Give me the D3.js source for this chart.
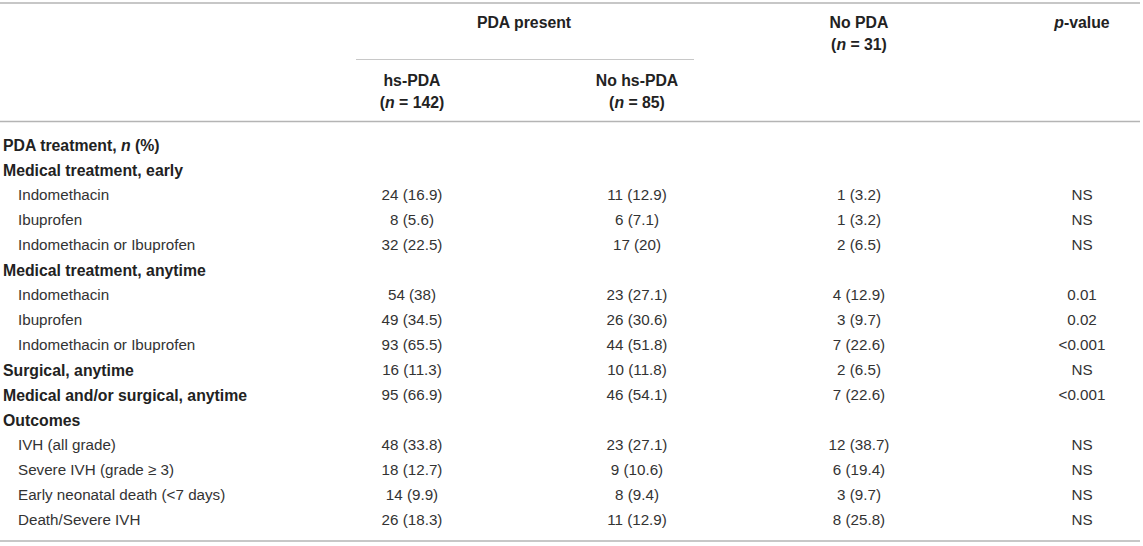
<!DOCTYPE html>
<html lang="en">
  <head>
    <meta charset="UTF-8" />
    <title>PDA treatment and outcomes</title>
    <script src="https://d3js.org/d3.v7.min.js"></script>
    <style>
      body {
        margin: 0;
        background: #fff;
      }
      svg {
        font-family: 'Liberation Sans', Arial, sans-serif;
        font-size: 15.2px;
      }
      .b {
        font-weight: bold;
        font-size: 15.8px;
      }
    </style>
  </head>
  <body>
    <svg width="1143" height="546"></svg>
    <script>
      // table content
      const columns = ['hsPDA', 'noHsPDA', 'noPDA', 'p'];

      const rowLabels = [
        'PDA treatment, |n| (%)',
        'Medical treatment, early',
        'Indomethacin',
        'Ibuprofen',
        'Indomethacin or Ibuprofen',
        'Medical treatment, anytime',
        'Indomethacin',
        'Ibuprofen',
        'Indomethacin or Ibuprofen',
        'Surgical, anytime',
        'Medical and/or surgical, anytime',
        'Outcomes',
        'IVH (all grade)',
        'Severe IVH (grade \u2265 3)',
        'Early neonatal death (<7 days)',
        'Death/Severe IVH',
      ];

      // 0 = section heading, 1 = sub item
      const rowLevels = [0, 0, 1, 1, 1, 0, 1, 1, 1, 0, 0, 0, 1, 1, 1, 1];

      const hsPDA = [
        '', '', '24 (16.9)', '8 (5.6)', '32 (22.5)', '', '54 (38)', '49 (34.5)',
        '93 (65.5)', '16 (11.3)', '95 (66.9)', '', '48 (33.8)', '18 (12.7)',
        '14 (9.9)', '26 (18.3)',
      ];
      const noHsPDA = [
        '', '', '11 (12.9)', '6 (7.1)', '17 (20)', '', '23 (27.1)', '26 (30.6)',
        '44 (51.8)', '10 (11.8)', '46 (54.1)', '', '23 (27.1)', '9 (10.6)',
        '8 (9.4)', '11 (12.9)',
      ];
      const noPDA = [
        '', '', '1 (3.2)', '1 (3.2)', '2 (6.5)', '', '4 (12.9)', '3 (9.7)',
        '7 (22.6)', '2 (6.5)', '7 (22.6)', '', '12 (38.7)', '6 (19.4)',
        '3 (9.7)', '8 (25.8)',
      ];
      const pValues = [
        '', '', 'NS', 'NS', 'NS', '', '0.01', '0.02', '<0.001', 'NS', '<0.001',
        '', 'NS', 'NS', 'NS', 'NS',
      ];

      // header cells: [column, line, text]  ("|x|" marks italic)
      const headerCells = [
        ['group', 0, 'PDA present'],
        ['hsPDA', 2, 'hs-PDA'],
        ['hsPDA', 3, '(|n| = 142)'],
        ['noHsPDA', 2, 'No hs-PDA'],
        ['noHsPDA', 3, '(|n| = 85)'],
        ['noPDA', 0, 'No PDA'],
        ['noPDA', 1, '(|n| = 31)'],
        ['p', 0, '|p|-value'],
      ];

      const svg = d3.select('svg');

      const x = d3
        .scaleOrdinal()
        .domain(['group', ...columns])
        .range([524, 412, 637, 859, 1082]);

      const y = d3
        .scaleLinear()
        .domain([0, rowLabels.length - 1])
        .range([145, 520]);

      const headY = d3
        .scaleOrdinal()
        .domain([0, 1, 2, 3])
        .range([22, 44, 80, 102]);

      // write "a |b| c" with italic parts
      function richText(sel, str) {
        str.split('|').forEach((part, i) => {
          if (part === '') return;
          sel
            .append('tspan')
            .attr('font-style', i % 2 ? 'italic' : null)
            .text(part);
        });
      }

      // rules
      const rule = svg.append('g').attr('stroke', '#b4b4b4');
      [3, 121.5, 541].forEach((ry) => {
        rule
          .append('line')
          .attr('x1', 0)
          .attr('x2', 1140)
          .attr('y1', ry)
          .attr('y2', ry)
          .attr('stroke-width', 1.6);
      });
      rule
        .append('line')
        .attr('x1', 356)
        .attr('x2', 694)
        .attr('y1', 59.5)
        .attr('y2', 59.5)
        .attr('stroke', '#c8c8c8')
        .attr('stroke-width', 1);

      // header
      svg
        .append('g')
        .attr('class', 'b')
        .attr('fill', '#222')
        .attr('text-anchor', 'middle')
        .selectAll('text')
        .data(headerCells)
        .join('text')
        .attr('x', (d) => x(d[0]))
        .attr('y', (d) => headY(d[1]))
        .attr('dy', '0.35em')
        .each(function (d) {
          richText(d3.select(this), d[2]);
        });

      // row labels
      svg
        .append('g')
        .selectAll('text')
        .data(rowLabels)
        .join('text')
        .attr('class', (d, i) => (rowLevels[i] ? null : 'b'))
        .attr('x', (d, i) => (rowLevels[i] ? 18 : 3))
        .attr('y', (d, i) => y(i))
        .attr('dy', '0.35em')
        .attr('fill', (d, i) => (rowLevels[i] ? '#333' : '#222'))
        .each(function (d) {
          richText(d3.select(this), d);
        });

      // values
      const valueCols = [
        ['hsPDA', hsPDA],
        ['noHsPDA', noHsPDA],
        ['noPDA', noPDA],
        ['p', pValues],
      ];

      valueCols.forEach(([col, values]) => {
        svg
          .append('g')
          .attr('text-anchor', 'middle')
          .attr('fill', '#333')
          .selectAll('text')
          .data(values)
          .join('text')
          .attr('x', x(col))
          .attr('y', (d, i) => y(i))
          .attr('dy', '0.35em')
          .text((d) => d);
      });
    </script>
  </body>
</html>
